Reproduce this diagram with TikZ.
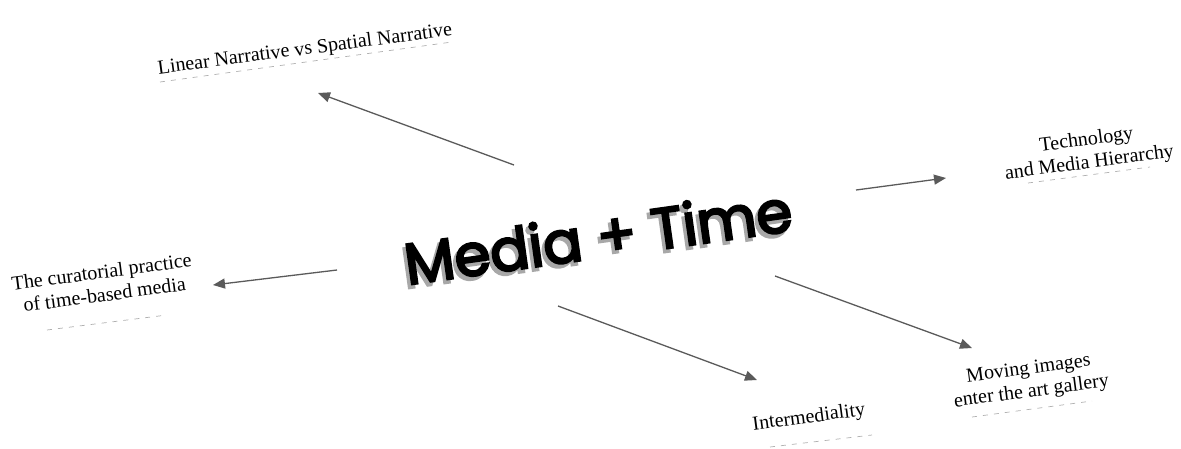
\documentclass[tikz,border=0pt]{standalone}
\usepackage{fontspec}
\setmainfont{Liberation Serif}
\newfontfamily\titlefont{Poppins}[FakeBold=4]
\usepackage{tikz}
\usetikzlibrary{arrows.meta}
\definecolor{arrowgray}{HTML}{5A5A5A}
\definecolor{linegray}{HTML}{B0B0B0}
\definecolor{shadowgray}{HTML}{A8A8A8}

\begin{document}
\begin{tikzpicture}[x=1pt,y=-1pt,
    topic/.style={rotate=7.5, align=center, inner sep=0pt, font=\fontsize{20}{23}\selectfont},
    headline/.style={rotate=8, inner sep=0pt, font=\titlefont\fontsize{58}{60}\selectfont},
    link/.style={draw=arrowgray, line width=1.3pt, -{Triangle[length=12pt,width=10pt]}},
    rule/.style={draw=linegray, line width=0.7pt, dash pattern=on 5pt off 6pt}]
    \useasboundingbox (0,0) rectangle (1181,448);

    % the title, with its shadow behind it
    \node[headline, text=shadowgray] (shadow) at (595,240) {Media + Time};
    \node[headline] (title) at (598,236) {Media + Time};

    \node[topic] (linear) at (305,50) {Linear Narrative vs Spatial Narrative};
    \node[topic] (tech) at (1088,152) {Technology\\and Media Hierarchy};
    \node[topic] (curate) at (103,283) {The curatorial practice\\of time-based media};
    \node[topic] (inter) at (809,418) {Intermediality};
    \node[topic] (moving) at (1030,381) {Moving images\\enter the art gallery};

    \coordinate (linear-a) at (514,165);  \coordinate (linear-b) at (318,93);
    \coordinate (tech-a) at (856,190);    \coordinate (tech-b) at (946,178);
    \coordinate (curate-a) at (337,270);  \coordinate (curate-b) at (213,285);
    \coordinate (inter-a) at (558,306);   \coordinate (inter-b) at (757,380);
    \coordinate (moving-a) at (775,276);  \coordinate (moving-b) at (972,348);

    \draw[link] (linear-a) -- (linear-b);
    \draw[link] (tech-a) -- (tech-b);
    \draw[link] (curate-a) -- (curate-b);
    \draw[link] (inter-a) -- (inter-b);
    \draw[link] (moving-a) -- (moving-b);

    % dashed rules under the topics
    \draw[rule] (160,82) -- (452,42);
    \draw[rule] (1028,183) -- (1150,167);
    \draw[rule] (47,330) -- (167,315);
    \draw[rule] (770,447) -- (872,435);
    \draw[rule] (972,417) -- (1092,401);
\end{tikzpicture}
\end{document}
